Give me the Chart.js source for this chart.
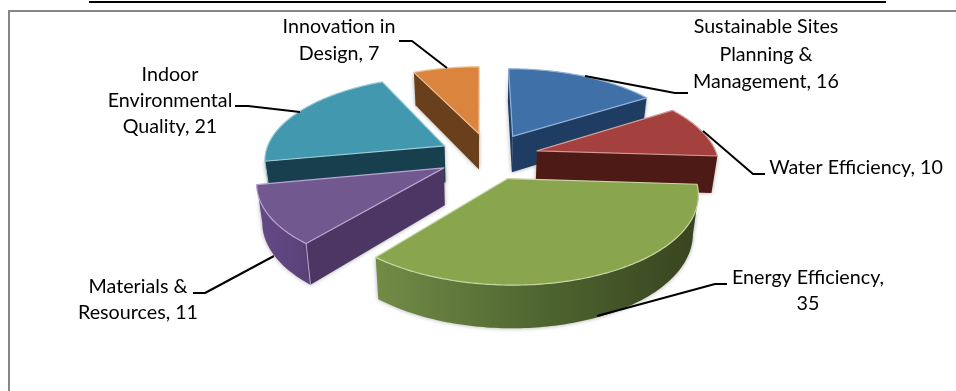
<!DOCTYPE html>
<html>
<head>
<meta charset="utf-8">
<style>html,body{margin:0;padding:0;background:#fff}canvas{display:block}</style>
<script src="https://cdn.jsdelivr.net/npm/chart.js@4/dist/chart.umd.min.js"></script>
</head>
<body>
<canvas id="pie" width="956" height="391"></canvas>
<script>
// LEED credit categories and their point shares
const categories = ["Sustainable Sites Planning & Management", "Water Efficiency", "Energy Efficiency",
                    "Materials & Resources", "Indoor Environmental Quality", "Innovation in Design"];
const credits = [16, 10, 35, 11, 21, 7];

// Words per label line
const labelWordCounts = [[2, 2, 2], [3], [2, 1], [2, 2], [1, 1, 2], [2, 2]];

const topColors = ["#4070A8", "#A4403E", "#89A54E", "#71588F", "#4198AF", "#DB843D"];
const edgeColors = ["#8FB1D8", "#D09A98", "#C9D6A6", "#B8A6D2", "#9CCBD8", "#EDBE92"];
const cutColors = ["#1F3D63", "#4E1A16", "#4C5F2C", "#4C3663", "#183F4D", "#6A3F1C"];
const rimLeftColors = ["#1F3D63", "#4E1A16", "#728C47", "#634A86", "#1F4C5A", "#6A3F1C"];
const rimMidColors = ["#1F3D63", "#4E1A16", "#4F6630", "#5F4680", "#1B4553", "#6A3F1C"];
const rimRightColors = ["#1F3D63", "#4E1A16", "#38441F", "#5A4278", "#183F4D", "#6A3F1C"];

// Slice displacement in units of the radius, painting order, and view parameters
const sliceOffsets = [[0.188, -0.269], [0.319, -0.087], [0.148, 0.237],
                      [-0.196, 0.116], [-0.200, -0.149], [-0.006, -0.303]];
const paintOrder = [5, 0, 4, 1, 3, 2];
const view = {cx: 480, cy: 158, sx: 180.9, sy: 83.7, tilt: 0.15, taper: 0.975};

// Label anchors and leader lines, in canvas pixels
const labelAnchors = [[766, 27, 27.5], [856, 168, 0], [808, 278, 25.5], [138, 287, 26], [170, 75, 26], [339, 27, 27]];
const leaders = [
  [[585, 76], [675, 93], [688, 93]],
  [[703, 131], [753, 174], [765, 174]],
  [[597, 316], [715, 284], [727, 284]],
  [[274, 256], [205, 293], [193, 293]],
  [[300, 112], [248, 106], [235, 106]],
  [[447, 68], [412, 41], [399, 41]]
];

function project(i, u, v) {
  const pu = u + sliceOffsets[i][0], pv = v + sliceOffsets[i][1];
  const s = 1 / (1 - view.tilt * pv);
  return {x: view.cx + view.sx * pu * s, y: view.cy + view.sy * pv * s, s};
}
function lower(p) {
  return {x: view.cx + (p.x - view.cx) * view.taper, y: p.y + 10 + 27 * p.s};
}
function poly(ctx, pts) {
  ctx.beginPath();
  pts.forEach((p, n) => n ? ctx.lineTo(p.x, p.y) : ctx.moveTo(p.x, p.y));
  ctx.closePath();
}
function faceShadow(ctx, on) {
  ctx.shadowColor = on ? "rgba(60,60,60,0.45)" : "transparent";
  ctx.shadowBlur = on ? 4 : 0;
}

function drawSlice(ctx, arc, i) {
  const apex = project(i, 0, 0);
  const rim = [];
  const steps = Math.max(2, Math.ceil((arc.endAngle - arc.startAngle) * 180 / Math.PI));
  for (let n = 0; n <= steps; n++) {
    const a = arc.startAngle + (arc.endAngle - arc.startAngle) * n / steps;
    rim.push(project(i, Math.cos(a), Math.sin(a)));
  }
  const first = rim[0], last = rim[rim.length - 1];
  const xs = rim.map(p => p.x);
  const grad = ctx.createLinearGradient(Math.min(...xs), 0, Math.max(...xs), 0);
  grad.addColorStop(0, rimLeftColors[i]);
  grad.addColorStop(0.5, rimMidColors[i]);
  grad.addColorStop(1, rimRightColors[i]);

  // Outer rim first, as one strip over its camera-facing run of segments
  const front = [];
  for (let n = 0; n < rim.length - 1; n++) {
    if (rim[n + 1].x < rim[n].x) front.push(rim[n], rim[n + 1]);
  }
  const startCut = first.x < apex.x, endCut = apex.x < last.x;
  ctx.save();
  faceShadow(ctx, true);
  if (front.length) {
    const uniq = front.filter((p, n) => n === 0 || p !== front[n - 1]);
    poly(ctx, uniq.concat(uniq.slice().reverse().map(lower)));
    ctx.fillStyle = grad;
    ctx.fill();
  }
  // Flat cut faces that look toward the viewer
  if (startCut) {
    poly(ctx, [apex, first, lower(first), lower(apex)]);
    ctx.fillStyle = cutColors[i];
    ctx.fill();
  }
  if (endCut) {
    poly(ctx, [last, apex, lower(apex), lower(last)]);
    ctx.fillStyle = cutColors[i];
    ctx.fill();
  }
  faceShadow(ctx, false);
  if (startCut && front.length && first === front[0]) {
    ctx.beginPath();
    ctx.moveTo(first.x, first.y);
    ctx.lineTo(lower(first).x, lower(first).y);
    ctx.strokeStyle = edgeColors[i];
    ctx.lineWidth = 1;
    ctx.stroke();
  }
  // Top surface
  poly(ctx, [apex].concat(rim));
  ctx.fillStyle = topColors[i];
  ctx.fill();
  ctx.strokeStyle = edgeColors[i];
  ctx.lineWidth = 1.2;
  ctx.lineJoin = "round";
  ctx.stroke();
  ctx.restore();
}

function labelLines(i) {
  const words = (categories[i] + ", " + credits[i]).split(" ");
  let at = 0;
  return labelWordCounts[i].map(n => {
    const line = words.slice(at, at + n).join(" ");
    at += n;
    return line;
  });
}

// Tilted, exploded pie built from the arcs the doughnut controller computes
const tiltedPie = {
  id: "tiltedPie",
  beforeDatasetsDraw(chart) {
    const ctx = chart.ctx;
    const arcs = chart.getDatasetMeta(0).data;
    paintOrder.forEach(i => drawSlice(ctx, arcs[i], i));
    return false;
  },
  afterDraw(chart) {
    const ctx = chart.ctx;
    ctx.save();
    // Page rule and open chart frame
    ctx.fillStyle = "#000";
    ctx.fillRect(89, 1, 797, 2);
    ctx.fillStyle = "#868686";
    ctx.fillRect(8, 10, 948, 2);
    ctx.fillRect(8, 10, 2, 381);
    // Leader lines
    ctx.strokeStyle = "#000";
    ctx.lineWidth = 2;
    ctx.lineJoin = "round";
    leaders.forEach(pts => {
      ctx.beginPath();
      pts.forEach((p, n) => n ? ctx.lineTo(p[0], p[1]) : ctx.moveTo(p[0], p[1]));
      ctx.stroke();
    });
    // Category labels
    ctx.fillStyle = "#000";
    ctx.font = '19.7px Lato';
    ctx.textAlign = "center";
    ctx.textBaseline = "middle";
    categories.forEach((_, i) => {
      const [x, y, lead] = labelAnchors[i];
      labelLines(i).forEach((line, n) => ctx.fillText(line, x, y + n * lead));
    });
    ctx.restore();
  }
};

new Chart(document.getElementById("pie"), {
  type: "pie",
  data: {labels: categories, datasets: [{data: credits, backgroundColor: topColors, borderWidth: 0}]},
  options: {
    responsive: false,
    animation: false,
    plugins: {legend: {display: false}, tooltip: {enabled: false}}
  },
  plugins: [tiltedPie]
});
</script>
</body>
</html>
